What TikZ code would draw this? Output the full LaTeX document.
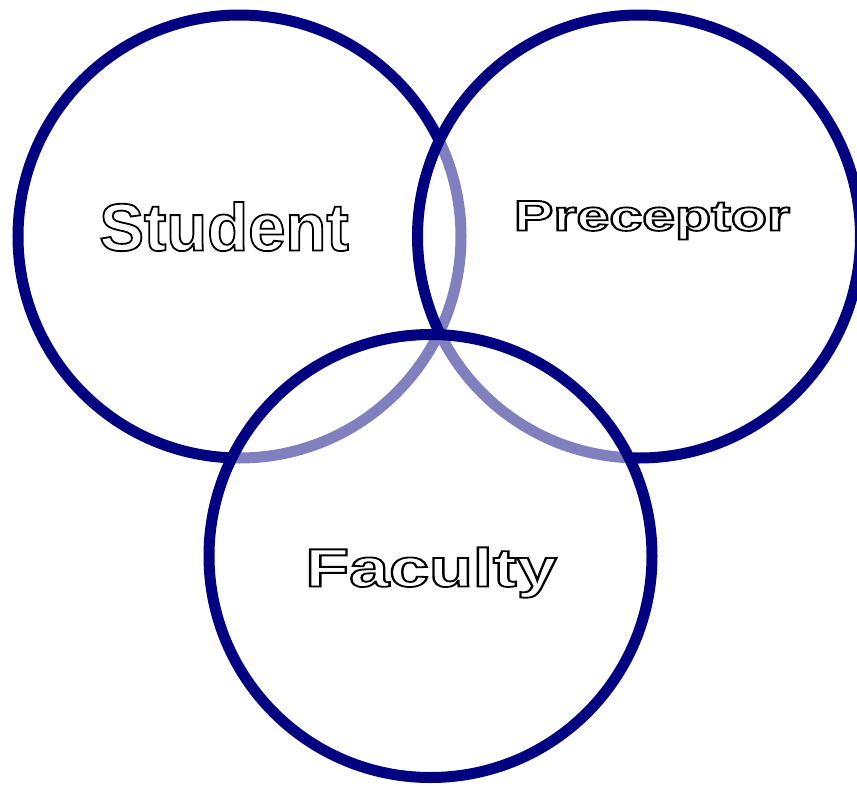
\documentclass[tikz,border=0pt]{standalone}
\usepackage{fontspec}
\setmainfont{Liberation Sans}
\definecolor{ringblue}{RGB}{0,0,128}
% white letters with a black outline (text render mode 2)
\newcommand\hollow[1]{\special{pdf:literal direct 2 Tr 1.8 w 0 G}#1\special{pdf:literal direct 0 Tr 0.4 w}}

\begin{document}
\begin{tikzpicture}[x=1pt, y=1pt,
    ring/.style={circle, draw=ringblue, line width=11pt, minimum size=443pt, inner sep=0pt},
    cover/.style={fill=white, fill opacity=0.5},
    word/.style={anchor=base, inner sep=0pt, text=white}]

    \useasboundingbox (0,0) rectangle (857,-785);

    \node[ring] (student) at (239.5,-236.5) {};
    \node[ring, cover] (preceptor) at (639,-236.5) {};
    \node[ring, cover] (faculty) at (430.5,-556) {};

    \node[word, font=\fontsize{67}{67}\selectfont\bfseries] (student-name) at (224,-250.5)
        {\hollow{Student}};
    \node[word, font=\fontsize{43}{43}\selectfont\bfseries] (preceptor-name) at (652,-230.5)
        {\scalebox{1.375}[1]{\hollow{Preceptor}}};
    \node[word, font=\fontsize{54}{54}\selectfont\bfseries] (faculty-name) at (431,-586.5)
        {\scalebox{1.33}[1]{\hollow{Faculty}}};
    %
\end{tikzpicture}
\end{document}
